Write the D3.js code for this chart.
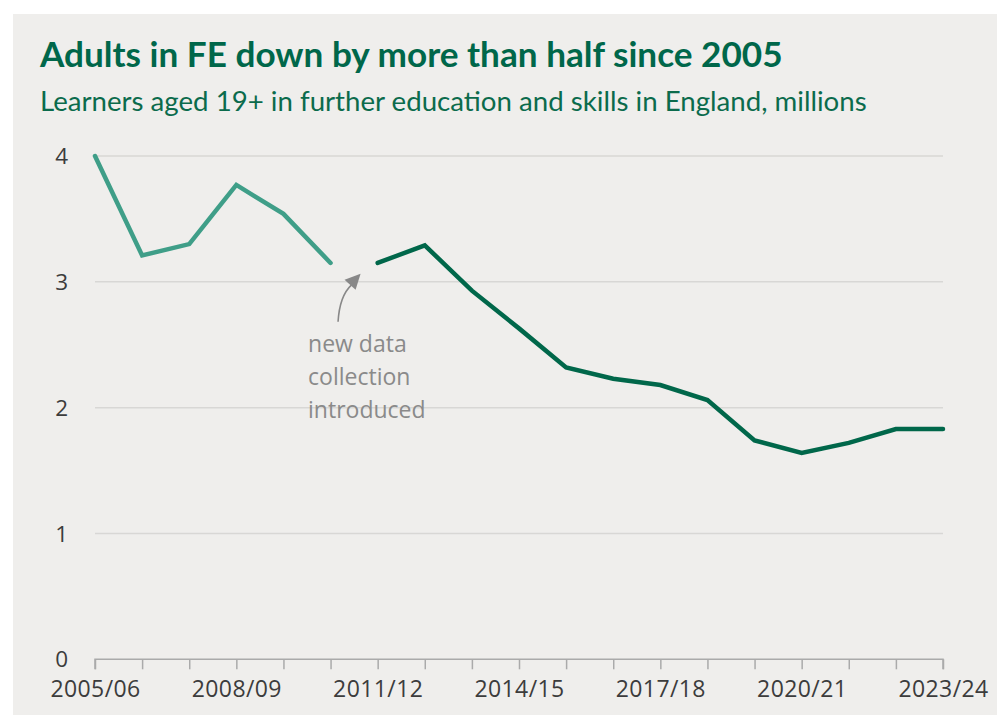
<!DOCTYPE html>
<html>
<head>
<meta charset="utf-8">
<script src="https://cdn.jsdelivr.net/npm/d3@7"></script>
<style>
  html, body { margin: 0; padding: 0; background: #ffffff; }
  svg { display: block; }
</style>
</head>
<body>
<svg id="chart" width="997" height="715"></svg>
<script>
// ---- data ----
const categories = ["2005/06","2006/07","2007/08","2008/09","2009/10","2010/11","2011/12","2012/13","2013/14","2014/15","2015/16","2016/17","2017/18","2018/19","2019/20","2020/21","2021/22","2022/23","2023/24"];
const oldSeriesYears = ["2005/06","2006/07","2007/08","2008/09","2009/10","2010/11"];
const oldSeriesValues = [4.00, 3.21, 3.30, 3.77, 3.54, 3.15];
const newSeriesYears = ["2011/12","2012/13","2013/14","2014/15","2015/16","2016/17","2017/18","2018/19","2019/20","2020/21","2021/22","2022/23","2023/24"];
const newSeriesValues = [3.15, 3.29, 2.93, 2.63, 2.32, 2.23, 2.18, 2.06, 1.74, 1.64, 1.72, 1.83, 1.83];
const xTickLabels = ["2005/06","2008/09","2011/12","2014/15","2017/18","2020/21","2023/24"];
const yTicks = [0, 1, 2, 3, 4];
const titleText = "Adults in FE down by more than half since 2005";
const subtitleText = "Learners aged 19+ in further education and skills in England, millions";
const annotationLines = ["new data", "collection", "introduced"];

// ---- layout ----
const svg = d3.select("#chart");
const green = "#00674a";
const teal = "#3f9e88";
const font = "'Open Sans', 'Noto Sans', sans-serif";

svg.append("rect").attr("x", 13).attr("y", 14).attr("width", 997 - 13).attr("height", 715 - 14).attr("fill", "#efeeec");

const x = d3.scalePoint().domain(categories).range([95, 943]);
const y = d3.scaleLinear().domain([0, 4]).range([659.3, 156]);

// title
function fitText(sel, target) {
  const w = sel.node().getComputedTextLength();
  const fs = parseFloat(sel.attr("font-size"));
  sel.attr("font-size", fs * target / w);
}
const title = svg.append("text").attr("x", 40).attr("y", 67)
  .attr("font-family", "Lato, 'Open Sans', sans-serif").attr("font-weight", 700)
  .attr("font-size", 30).attr("fill", green).text(titleText);
fitText(title, 743);
const sub = svg.append("text").attr("x", 40).attr("y", 111)
  .attr("font-family", "Lato, 'Open Sans', sans-serif").attr("font-weight", 400)
  .attr("font-size", 22).attr("fill", "#0b6b4c").text(subtitleText);
fitText(sub, 827);

// gridlines
const grid = svg.append("g");
grid.selectAll("line").data(yTicks.filter(d => d > 0)).join("line")
  .attr("x1", x.range()[0]).attr("x2", x.range()[1])
  .attr("y1", d => y(d)).attr("y2", d => y(d))
  .attr("stroke", "#d8d7d5").attr("stroke-width", 1.5);

// y axis labels
svg.append("g").selectAll("text").data(yTicks).join("text")
  .attr("x", 68).attr("y", d => y(d)).attr("dy", "0.36em")
  .attr("text-anchor", "end").attr("font-family", font).attr("font-size", 22.5)
  .attr("fill", "#3c3c3c").text(d => d);

// x axis
const xAxis = d3.axisBottom(x).tickSize(10).tickFormat(d => xTickLabels.includes(d) ? d : "");
const gx = svg.append("g").attr("transform", `translate(0,${y(0)})`).call(xAxis);
gx.select(".domain").attr("stroke", "#aaaaaa").attr("stroke-width", 1.5).attr("d", `M${x.range()[0]},10V0H${x.range()[1]}V10`);
gx.selectAll(".tick line").attr("stroke", "#aaaaaa").attr("stroke-width", 1.5);
gx.selectAll(".tick text").attr("font-family", font).attr("font-size", 23)
  .attr("letter-spacing", 0.4)
  .attr("fill", "#3c3c3c").attr("y", 21).attr("dy", "0.71em");

// lines
const line = d3.line().x(d => x(d[0])).y(d => y(d[1]));
svg.append("path").datum(oldSeriesYears.map((d, i) => [d, oldSeriesValues[i]]))
  .attr("d", line).attr("fill", "none").attr("stroke", teal)
  .attr("stroke-width", 4.5).attr("stroke-linejoin", "miter").attr("stroke-linecap", "round");
svg.append("path").datum(newSeriesYears.map((d, i) => [d, newSeriesValues[i]]))
  .attr("d", line).attr("fill", "none").attr("stroke", green)
  .attr("stroke-width", 4.5).attr("stroke-linejoin", "miter").attr("stroke-linecap", "round");

// annotation
const ax = x("2010/11"), ay = y(3);
svg.append("path")
  .attr("d", `M${ax + 7.5},${ay + 40} Q${ax + 9},${ay + 14} ${ax + 21},${ay + 3}`)
  .attr("fill", "none").attr("stroke", "#888888").attr("stroke-width", 1.6);
svg.append("path")
  .attr("d", `M${ax + 30},${ay - 8} L${ax + 14},${ay - 2} L${ax + 25},${ay + 8} Z`)
  .attr("fill", "#888888");
svg.append("g").selectAll("text").data(annotationLines).join("text")
  .attr("x", ax - 22.5).attr("y", (d, i) => 352 + i * 33)
  .attr("font-family", font).attr("font-size", 23).attr("fill", "#8a8a8a").text(d => d);
</script>
</body>
</html>
